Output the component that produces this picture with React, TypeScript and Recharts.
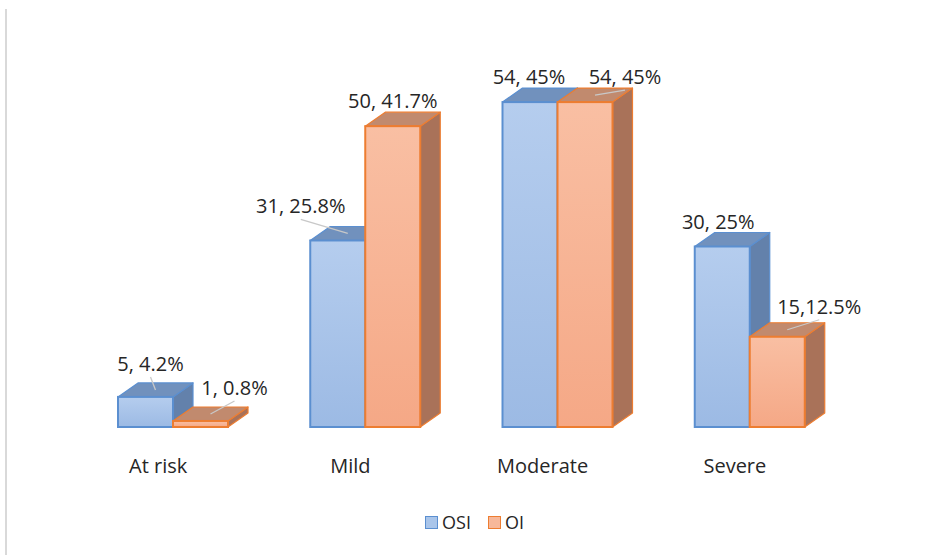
import React from 'react';
import { BarChart, Bar, XAxis, YAxis, Legend, LabelList } from 'recharts';

const categories = ['At risk', 'Mild', 'Moderate', 'Severe'];
const osiValues = [5, 31, 54, 30];
const oiValues = [1, 50, 54, 15];
const osiLabels = ['5, 4.2%', '31, 25.8%', '54, 45%', '30, 25%'];
const oiLabels = ['1, 0.8%', '50, 41.7%', '54, 45%', '15,12.5%'];

const data = categories.map((c, i) => ({ name: c, OSI: osiValues[i], OI: oiValues[i] }));

// 3D depth of the bars
const DX = 20;
const DY = 14;

// manual label placement (as in the original spreadsheet chart)
const OSI_NUDGE = [-5, -47, -11, -14];
const OSI_GAP = [12, 13, 4, 4];
const OSI_LEADER = [true, true, false, false];
const OI_NUDGE = [24, -10, 30, 32];
const OI_GAP = [12, 4, 4, 9];
const OI_LEADER = [true, false, true, true];

const FONT = '"Open Sans", "Liberation Sans", sans-serif';
const TEXT = '#262626';

const STYLES = {
  OSI: { front: 'url(#osiFront)', top: '#7191bd', side: '#6381ab', stroke: '#5b8fd0' },
  OI: { front: 'url(#oiFront)', top: '#c18a6e', side: '#a97259', stroke: '#ed7d31' },
};

const makeShape = (key: 'OSI' | 'OI') => (props: any) => {
  const { x, y, width, height } = props;
  const s = STYLES[key];
  if (height == null || width == null) return null;
  const top = `${x},${y} ${x + DX},${y - DY} ${x + width + DX},${y - DY} ${x + width},${y}`;
  const side = `${x + width},${y} ${x + width + DX},${y - DY} ${x + width + DX},${y + height - DY} ${x + width},${y + height}`;
  return (
    <g>
      <polygon points={side} fill={s.side} stroke={s.stroke} strokeWidth={1.2} strokeLinejoin="round" />
      <polygon points={top} fill={s.top} stroke={s.stroke} strokeWidth={1.2} strokeLinejoin="round" />
      <rect x={x} y={y} width={width} height={height} fill={s.front} stroke={s.stroke} strokeWidth={2} />
    </g>
  );
};

const makeLabel = (texts: string[], nudge: number[], gap: number[], leader: boolean[]) => (props: any) => {
  const { x, y, width, index } = props;
  const faceCx = x + width / 2 + DX / 2;
  const faceCy = y - DY / 2;
  const cx = faceCx + nudge[index];
  const base = y - DY - gap[index];
  return (
    <g>
      {leader[index] && (
        <line x1={cx} y1={base + 6} x2={faceCx} y2={faceCy} stroke="#c8c8c8" strokeWidth={1.3} />
      )}
      <text x={cx} y={base} textAnchor="middle" fontFamily={FONT} fontSize={20} fill={TEXT}>
        {texts[index]}
      </text>
    </g>
  );
};

const Tick = (props: any) => {
  const { x, y, payload } = props;
  return (
    <text x={x - 15} y={y + 46} textAnchor="middle" fontFamily={FONT} fontSize={20} fill={TEXT}>
      {payload.value}
    </text>
  );
};

const LegendContent = () => (
  <div style={{ display: 'flex', justifyContent: 'center', alignItems: 'center', fontFamily: FONT, fontSize: 18, color: TEXT, paddingLeft: 20 }}>
    <span style={{ display: 'inline-block', width: 11, height: 11, background: '#a9c5ea', border: '1px solid #5b8fd0', marginRight: 4 }} />
    <span style={{ marginRight: 17 }}>OSI</span>
    <span style={{ display: 'inline-block', width: 11, height: 11, background: '#f7b89a', border: '1px solid #ed7d31', marginRight: 4 }} />
    <span>OI</span>
  </div>
);

export default function App() {
  return (
    <div style={{ position: 'absolute', left: 0, top: 0, width: 929, height: 555, background: '#fff' }}>
      <div style={{ position: 'absolute', left: 5, top: 9, width: 2, height: 546, background: '#d9d9d9' }} />
      <BarChart
        width={929}
        height={555}
        data={data}
        margin={{ top: 66, right: 83, bottom: 88, left: 77 }}
        barGap={0}
        barSize={55}
      >
        <defs>
          <linearGradient id="osiFront" x1="0" y1="0" x2="0" y2="1">
            <stop offset="0%" stopColor="#b5cdee" />
            <stop offset="100%" stopColor="#9cbae4" />
          </linearGradient>
          <linearGradient id="oiFront" x1="0" y1="0" x2="0" y2="1">
            <stop offset="0%" stopColor="#f9bfa3" />
            <stop offset="100%" stopColor="#f5a886" />
          </linearGradient>
        </defs>
        <XAxis dataKey="name" axisLine={false} tickLine={false} tickSize={0} tickMargin={0} height={40} interval={0} tick={<Tick />} />
        <YAxis hide domain={[0, 60]} />
        <Legend
          verticalAlign="middle"
          layout="horizontal"
          content={<LegendContent />}
          wrapperStyle={{ position: 'absolute', top: 510, left: 0, width: 929 }}
        />
        <Bar dataKey="OSI" shape={makeShape('OSI')} isAnimationActive={false}>
          <LabelList content={makeLabel(osiLabels, OSI_NUDGE, OSI_GAP, OSI_LEADER)} />
        </Bar>
        <Bar dataKey="OI" shape={makeShape('OI')} isAnimationActive={false}>
          <LabelList content={makeLabel(oiLabels, OI_NUDGE, OI_GAP, OI_LEADER)} />
        </Bar>
      </BarChart>
    </div>
  );
}
